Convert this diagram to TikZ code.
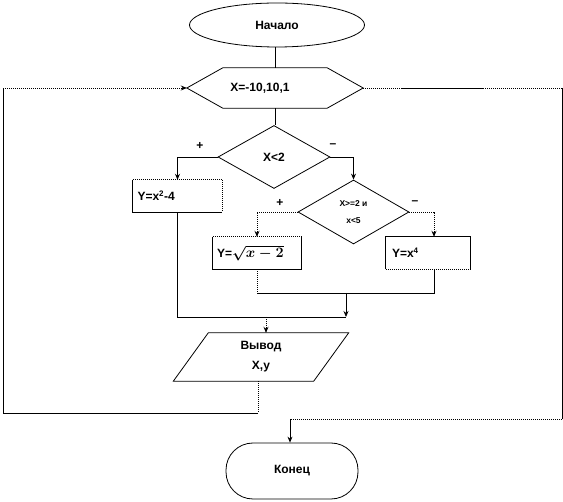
\documentclass[tikz,border=0pt]{standalone}
\usepackage{fontspec}
\setmainfont{Liberation Sans}
\usetikzlibrary{shapes.geometric,arrows.meta}
\tikzset{
  lbl/.style={font=\fontsize{12}{14}\selectfont\bfseries},
  small/.style={font=\fontsize{8.5}{10}\selectfont\bfseries},
  ln/.style={line width=0.8pt},
  dl/.style={line width=0.9pt, dash pattern=on 1pt off 1pt},
  arr/.style={-{Stealth[length=6pt,width=5pt]}},
  box/.style={lbl, minimum height=32pt, inner sep=0pt},
}
\newcommand{\sqrtbold}{\mbox{\fontsize{14}{16}\selectfont\boldmath$\sqrt{x-2}$}}
\begin{document}
\begin{tikzpicture}[x=1pt,y=-1pt]
\useasboundingbox (0,0) rectangle (563,502);
% start
\node[ellipse, draw, ln, minimum width=175pt, minimum height=44pt, lbl] (start) at (277,25) {Начало};
% hexagon loop
\node[minimum width=176pt, minimum height=40pt, inner sep=0pt, lbl] (hex) at (275,88) {\hspace*{-30pt}X=-10,10,1};
\draw[ln] (hex.west) -- ([xshift=36pt]hex.north west) -- ([xshift=-36pt]hex.north east) -- (hex.east)
  -- ([xshift=-36pt]hex.south east) -- ([xshift=36pt]hex.south west) -- cycle;
\draw[ln] (start.south -| hex.north) -- (hex.north);
% decision 1
\node[diamond, draw, ln, minimum width=112pt, minimum height=63pt, inner sep=0pt, lbl] (d1) at (274,157) {X<2};
\draw[ln] (hex.south) -- (hex.south |- d1.north);
\node[lbl] (p1) at (200,146) {+};
\node[lbl] (m1) at (333,146) {–};
% box 1
\node[box, minimum width=89pt, text width=80pt, align=left] (b1) at (177.5,196) {Y=x\textsuperscript{2}-4};
\draw[ln] (b1.north west) -- (b1.south west) -- (b1.south east);
\draw[dl] (b1.north west) -- (b1.north east) -- (b1.south east);
\draw[ln,arr] (d1.west) -| (b1.north);
% decision 2
\node[diamond, draw, ln, minimum width=111pt, minimum height=64pt, inner sep=0pt, small, align=center] (d2) at (353.5,212) {X>=2 и\\[7pt]x<5};
\draw[ln,arr] (d1.east) -| (d2.north);
\node[lbl] (p2) at (280,203) {+};
\node[lbl] (m2) at (415,203) {–};
% box 2
\node[box, minimum width=88pt, text width=80pt, align=left] (b2) at (257,253) {Y=\sqrtbold};
\draw[ln] (b2.north west) -- (b2.south west) -- (b2.south east) -- (b2.north east);
\draw[dl] (b2.north west) -- (b2.north east);
\draw[dl] (d2.west) -| ([yshift=6pt]b2.north);
\draw[ln,arr] ([yshift=6pt]b2.north) -- (b2.north);
% box 3
\node[box, minimum width=84pt, text width=72pt, align=left] (b3) at (428,253) {Y=x\textsuperscript{4}};
\draw[ln] (b3.south west) -- (b3.north west) -- (b3.north east) -- (b3.south east);
\draw[dl] (b3.south west) -- (b3.south east);
\coordinate (b3c) at ([xshift=6pt]b3.north);
\draw[dl] (d2.east) -| ([yshift=6pt]b3c);
\draw[ln,arr] ([yshift=6pt]b3c) -- (b3c);
% merge
\coordinate (j1) at (346,293);
\coordinate (j2) at (346,317);
\coordinate (j3) at (266,317);
\draw[dl] (b2.south) -- (b2.south |- j1);
\draw[ln] (b2.south |- j1) -- (j1);
\draw[ln] ([xshift=6pt]b3.south) |- (j1);
\draw[ln,arr] (j1) -- (j2);
\draw[ln] (b1.south) |- (j2);
% output
\node[minimum width=175pt, minimum height=48pt, inner sep=0pt, lbl, align=center] (out) at (261,357) {Вывод\\[6pt]X,y};
\draw[ln] ([xshift=35pt]out.north west) -- (out.north east) -- ([xshift=-35pt]out.south east) -- (out.south west) -- cycle;
\draw[dl] (j3) -- ([yshift=6pt]j3 |- out.north);
\draw[ln,arr] ([yshift=6pt]j3 |- out.north) -- (j3 |- out.north);
% loop back
\coordinate (lb) at (3,413);
\coordinate (lt) at (3,88);
\draw[dl] ([xshift=-3pt]out.south) -- ([xshift=-3pt]out.south |- lb);
\draw[ln] ([xshift=-3pt]out.south |- lb) -- (lb) -- (lt);
\draw[dl] (lt) -- ([xshift=-6pt]hex.west);
\draw[ln,arr] ([xshift=-6pt]hex.west) -- (hex.west);
% exit
\coordinate (r1) at (402,88);
\coordinate (r2) at (483,88);
\coordinate (rt) at (562,88);
\coordinate (rb) at (562,419);
\coordinate (eb) at (290,419);
\draw[dl] (hex.east) -- (r1);
\draw[ln] (r1) -- (r2);
\draw[dl] (r2) -- (rt);
\draw[ln] (rt) -- (rb);
\draw[dl] (rb) -- (eb);
% end
\node[draw, ln, rounded corners=27pt, minimum width=132pt, minimum height=56pt, lbl] (end) at (292,471) {Конец};
\draw[ln,arr] (eb) -- (eb |- end.north);
\end{tikzpicture}
\end{document}
